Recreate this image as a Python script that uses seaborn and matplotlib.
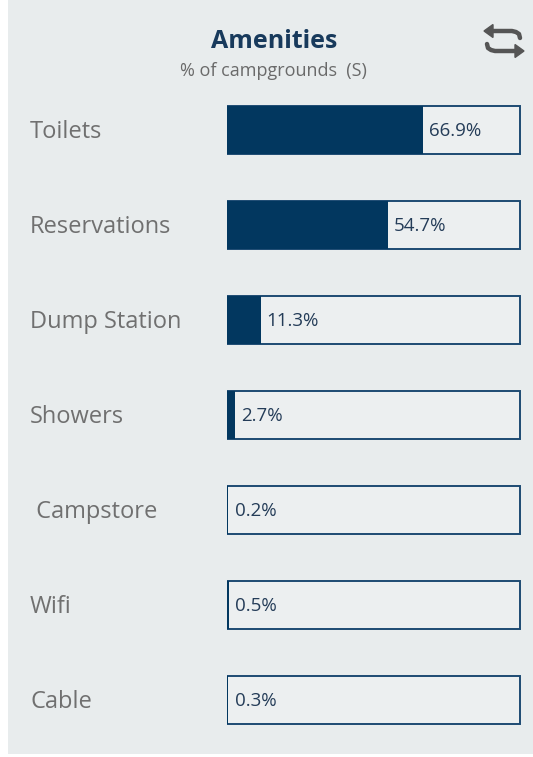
import matplotlib
matplotlib.use("Agg")
import matplotlib.pyplot as plt
import seaborn as sns
import pandas as pd
from matplotlib.lines import Line2D
from matplotlib.patches import Polygon, Rectangle

categories = ["Toilets", "Reservations", "Dump Station", "Showers", " Campstore", "Wifi", "Cable"]
values = [66.9, 54.7, 11.3, 2.7, 0.2, 0.5, 0.3]
value_labels = ["66.9%", "54.7%", "11.3%", "2.7%", "0.2%", "0.5%", "0.3%"]
title = "Amenities"
subtitle = "% of campgrounds  (S)"
full_scale = [100] * len(categories)

BG = "#e8eced"
NAVY = "#02375f"
EDGE = "#1d4a72"
LABEL = "#707070"
VALC = "#243c58"

sns.set_theme(style="white")
plt.rcParams["font.family"] = ["Open Sans", "DejaVu Sans"]

W, H = 533, 757
fig = plt.figure(figsize=(W / 100, H / 100), dpi=100)
fig.patch.set_facecolor("white")

# overlay in pixel coordinates for background & icon
deco = fig.add_axes([0, 0, 1, 1])
deco.set_xlim(0, W)
deco.set_ylim(H, 0)
deco.axis("off")
deco.add_patch(Rectangle((8, 0), W - 8, H - 3, facecolor=BG, edgecolor="none"))

# swap icon
ic = "#555555"
deco.add_line(Line2D([491, 512, 516, 519, 520], [31, 31, 32, 34, 38], color=ic, lw=3.2, solid_capstyle="round"))
deco.add_patch(Polygon([[484, 31], [493, 24.5], [493, 37.5]], closed=True, color=ic))
deco.add_line(Line2D([487, 488, 491, 495, 516], [44, 48, 50, 51, 51], color=ic, lw=3.2, solid_capstyle="round"))
deco.add_patch(Polygon([[524, 51], [515, 44.5], [515, 57.5]], closed=True, color=ic))

fig.text(274 / W, 1 - 41 / H, title, ha="center", va="center", fontsize=18,
         fontweight="bold", color="#183a5c")
fig.text(273 / W, 1 - 71 / H, subtitle, ha="center", va="center", fontsize=13, color="#6a6a6a")

df = pd.DataFrame({"category": categories, "value": values, "full": full_scale})

ax = fig.add_axes([227 / W, 1 - 747.5 / H, 294 / W, 665 / H])
ax.set_facecolor("none")
sns.barplot(data=df, x="full", y="category", orient="h", ax=ax, width=0.505,
            facecolor="#eceff0", edgecolor=EDGE, linewidth=1.4)
sns.barplot(data=df, x="value", y="category", orient="h", ax=ax, width=0.505,
            color=NAVY, edgecolor="none", linewidth=0, saturation=1)
ax.set_xlim(-0.15, 100.2)
ax.set_ylim(len(categories) - 0.5, -0.5)
for sp in ax.spines.values():
    sp.set_visible(False)
ax.set_xlabel("")
ax.set_ylabel("")
ax.set_xticks([])
ax.set_yticks([])

for i, (c, v, lab) in enumerate(zip(categories, values, value_labels)):
    ax.annotate(lab, xy=(max(v, 0.6), i), xytext=(4, -1), textcoords="offset points",
                ha="left", va="center", fontsize=13.5, color=VALC)
    ax.annotate(c, xy=(0, i), xycoords=("axes fraction", "data"),
                xytext=(30 - 227, -2), textcoords="offset pixels",
                ha="left", va="center", fontsize=17, color=LABEL)

fig.savefig("out.png", dpi=100, facecolor=fig.get_facecolor())
